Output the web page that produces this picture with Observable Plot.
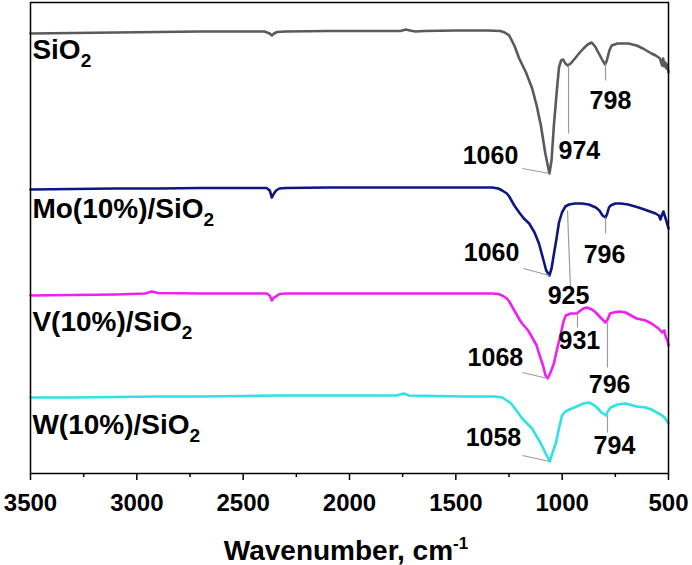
<!DOCTYPE html>
<html><head><meta charset="utf-8">
<script src="https://cdn.jsdelivr.net/npm/d3@7"></script>
<script src="https://cdn.jsdelivr.net/npm/@observablehq/plot@0.6"></script>
<style>body{margin:0;background:#fff;} svg{display:block}</style>
</head><body><div id="chart"></div>
<script>
// Series names and colours
const seriesNames = ["SiO2", "Mo(10%)/SiO2", "V(10%)/SiO2", "W(10%)/SiO2"];
const seriesColors = ["#5a5a5a", "#0c1880", "#f020f0", "#30e2e4"];

// Spectra: wavenumber (cm-1) and transmittance (a.u., stacked offsets)
const sio2W = [3500,3300,3100,2900,2700,2500,2400,2375,2365,2355,2340,2300,2100,1900,1760,1735,1715,1690,1650,1500,1350,1290,1270,1249,1225,1202,1170,1141,1120,1100,1080,1060,1050,1039,1025,1015,1005,995,985,974,960,940,921,900,880,861,845,825,810,798,790,778,767,740,710,688,650,620,580,560,540,530,525,520,515,510,505,500];
const sio2T = [440,440.5,441,441.5,442,442,442,440,438,440,441.5,442,442.5,442.5,442.5,444,443,442,442.5,443,443,442.5,441,438,428,415,401,385,368,348,321,300,313,348,383,406,413,414,410,408,410,415,420,425,429,431,427,419,413,409,413,423,428,430,430,430,428,425,420,418,415,408,415,407,411,405,409,401];

const moW = [3500,3300,3100,2900,2700,2500,2390,2375,2365,2355,2345,2330,2300,2100,1900,1700,1500,1330,1300,1282,1260,1249,1225,1202,1180,1155,1130,1109,1090,1075,1060,1050,1040,1028,1015,1001,985,968,940,908,875,842,825,810,796,788,780,772,750,725,690,641,600,561,545,538,530,524,515,508,500];
const moT = [284,284.5,285,285,285.5,285.5,285.5,283,276,280,283,285,285.5,286,286,286,286,286,285,283,280,277,268,261,255,250,241,230,215,203,198,205,218,233,251,261,267,269,270,270,269,266,263,258,256,260,266,268,270,270,269,266,263,260,258,254,259,262,256,251,245];

const vW = [3500,3300,3100,2960,2930,2900,2700,2500,2390,2375,2365,2355,2345,2330,2300,2100,1900,1700,1500,1330,1300,1282,1260,1249,1225,1198,1188,1160,1141,1120,1109,1090,1078,1068,1055,1039,1020,1006,995,983,960,931,920,900,884,860,842,820,796,788,775,758,730,702,650,608,580,560,547,530,520,512,505,500];
const vT = [178,178.5,179,180,182,180.5,180,180,180,178,173,176,177,179.5,180,180,180,180,180,180,179.5,178,175,172,163,153,150,143,136,128,120,108,98,95,101,110,128,140,151,158,160,160,162,165,166,164,161,156,151,153,160,161,162,161,155,153,150,147,145,141,143,136,133,128];

const wW = [3500,3300,3100,2900,2700,2500,2335,2100,1900,1780,1745,1720,1600,1450,1385,1320,1282,1260,1240,1215,1188,1160,1141,1120,1100,1080,1058,1045,1030,1015,1001,985,955,920,900,875,855,837,815,794,786,772,740,702,650,608,580,547,530,515,500];
const wT = [76,76,76.5,77,77,77.5,78,78,78,78,80,78,77.5,77,77,77,76,73,70,63,55,49,45,37,30,21,12,21,30,45,58,62,65,68,70,71,69,66,61,58,62,66,69,70,67,66,64,60,58,55,50];

// Peak annotations: label, leader start (on curve) -> end, label anchor
const annLabel = ["1060","974","798","1060","925","796","1068","931","796","1058","794"];
const annX1 = [1060,970,796,1060,975,796,1068,928,787,1058,787];
const annY1 = [300,408,410,198,263,256,95,160,151,12,58];
const annX2 = [1187,970,796,1182,961,796,1187,928,787,1187,787];
const annY2 = [305,340,393,205,186,240,101,146,106,18,41];
const annTX = [1337,919,773,1332,970,801,1314,919,777,1323,754];
const annTY = [318,323,373,221,178,219,116,133,89,36,28];

// Series label anchors
const labelX = [3491,3491,3491,3491];
const labelY = [415,256,143,40];

// Axis ticks
const majorTicks = [3500,3000,2500,2000,1500,1000,500];
const minorTicks = [3250,2750,2250,1750,1250,750];

const spectra = [[sio2W, sio2T],[moW, moT],[vW, vT],[wW, wT]];
const rows = [];
spectra.forEach(([ws, ts], i) => ws.forEach((w, j) => rows.push({series: seriesNames[i], w, t: ts[j]})));
const ann = annLabel.map((label, i) => ({label, x1: annX1[i], y1: annY1[i], x2: annX2[i], y2: annY2[i], tx: annTX[i], ty: annTY[i]}));
const labels = seriesNames.map((name, i) => ({name, x: labelX[i], y: labelY[i]}));

const font = "'Liberation Sans', Arial, Helvetica, sans-serif";
const plot = Plot.plot({
  width: 692, height: 565,
  marginLeft: 30, marginRight: 24, marginTop: 2, marginBottom: 92,
  style: {fontFamily: font, background: "white", color: "black"},
  x: {domain: [3500, 500], label: null},
  y: {domain: [0, 471], axis: null},
  color: {domain: seriesNames, range: seriesColors},
  marks: [
    Plot.line(rows, {x: "w", y: "t", z: "series", stroke: "series", strokeWidth: 2.6}),
    Plot.link(ann, {x1: "x1", y1: "y1", x2: "x2", y2: "y2", stroke: "#9c9c9c", strokeWidth: 1.2}),
    Plot.text(ann, {x: "tx", y: "ty", text: "label", fontSize: 25, fontWeight: "bold", fill: "black"}),
    Plot.text(labels, {x: "x", y: "y", text: "name", textAnchor: "start", lineAnchor: "bottom", fontSize: 28, fontWeight: "bold", fill: "black"}),
    Plot.frame({stroke: "black", strokeWidth: 1.5}),
    Plot.axisX(majorTicks, {tickSize: 7, tickPadding: 13, fontSize: 24, fontWeight: "bold", strokeWidth: 1.5, label: null, tickFormat: d3.format("d")}),
    Plot.axisX(minorTicks, {tickSize: 4, strokeWidth: 1.5, label: null, tickFormat: () => ""})
  ]
});

// subscripts in series labels
d3.select(plot).selectAll("text").filter(function() { return /SiO2$/.test(this.textContent); })
  .each(function() {
    const s = this.textContent;
    const t = d3.select(this);
    t.text(null);
    t.append("tspan").text(s.slice(0, -1));
    t.append("tspan").attr("dy", 8).attr("font-size", 19).text("2");
  });

// axis title with superscript
const title = d3.select(plot).append("text")
  .attr("x", 346).attr("y", 560)
  .attr("text-anchor", "middle")
  .attr("font-family", font).attr("font-weight", "bold").attr("font-size", 28).attr("fill", "black");
title.append("tspan").text("Wavenumber, cm");
title.append("tspan").attr("dy", -11).attr("font-size", 17).text("-1");

document.getElementById("chart").appendChild(plot);
</script>
</body></html>
